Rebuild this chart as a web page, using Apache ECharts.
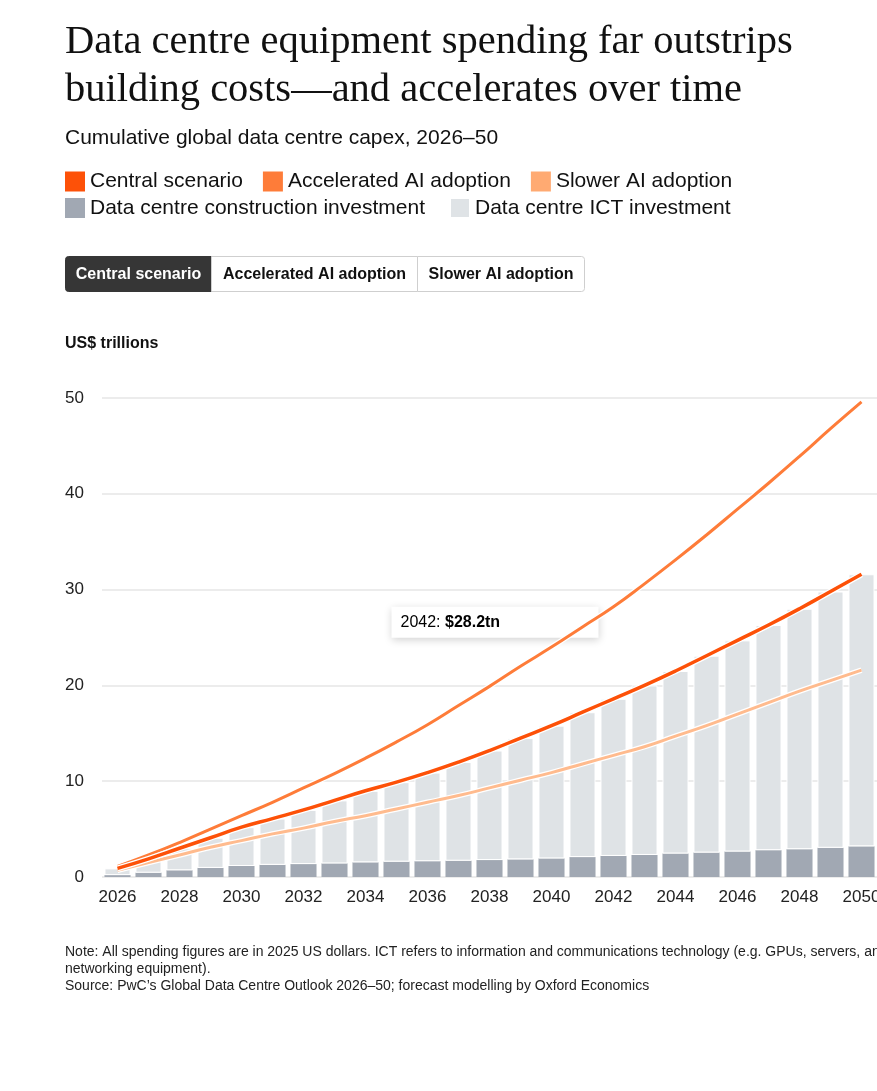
<!DOCTYPE html>
<html lang="en">
  <head>
    <meta charset="UTF-8" />
    <title>Data centre capex</title>
    <script src="https://cdn.jsdelivr.net/npm/echarts@6.0.0/dist/echarts.min.js"></script>
    <style>
      html, body { margin: 0; padding: 0; background: #fff; overflow: hidden; }
    </style>
  </head>
  <body>
    <div id="main" style="width: 877px; height: 1091px"></div>
    <script type="text/javascript">
      // values (US$ trillions, cumulative)
      const years = ["2026", "2027", "2028", "2029", "2030", "2031", "2032", "2033", "2034",
        "2035", "2036", "2037", "2038", "2039", "2040", "2041", "2042", "2043", "2044",
        "2045", "2046", "2047", "2048", "2049", "2050"];
      const construction = [0.2, 0.45, 0.7, 0.95, 1.15, 1.27, 1.35, 1.42, 1.53, 1.6, 1.65, 1.7,
        1.77, 1.84, 1.94, 2.08, 2.2, 2.3, 2.45, 2.55, 2.66, 2.8, 2.9, 3.05, 3.2];
      const ict = [0.7, 1.45, 2.3, 3.15, 4.05, 4.83, 5.65, 6.58, 7.47, 8.3, 9.25, 10.3, 11.43,
        12.66, 13.86, 15.12, 16.4, 17.7, 19.05, 20.55, 22.04, 23.5, 25.1, 26.75, 28.4];
      const central = [0.9, 1.9, 3.0, 4.1, 5.2, 6.1, 7.0, 8.0, 9.0, 9.9, 10.9, 12.0, 13.2, 14.5,
        15.8, 17.2, 18.6, 20.0, 21.5, 23.1, 24.7, 26.3, 28.0, 29.8, 31.6];
      const accelerated = [1.1, 2.3, 3.6, 5.0, 6.4, 7.8, 9.3, 10.8, 12.4, 14.1, 15.9, 17.9, 19.9,
        22.0, 24.0, 26.1, 28.2, 30.6, 33.1, 35.7, 38.4, 41.1, 43.9, 46.8, 49.6];
      const slower = [0.7, 1.5, 2.3, 3.1, 3.8, 4.5, 5.1, 5.8, 6.4, 7.1, 7.8, 8.5, 9.3, 10.1, 10.9,
        11.8, 12.7, 13.6, 14.7, 15.8, 17.0, 18.2, 19.4, 20.5, 21.6];
      const tipYear = "2042";
      const buttons = ["Central scenario", "Accelerated AI adoption", "Slower AI adoption"];

      const SANS = "Liberation Sans";
      const colors = {
        central: "#fd5108",
        accelerated: "#fe7c39",
        slower: "#ffaa72",
        slowerLine: "#ffbb8e",
        construction: "#a1a8b3",
        ict: "#dfe3e6",
      };

      let myChart = echarts.init(document.getElementById("main"));

      function lineSeries(name, data, color, lineColor, width, z) {
        return [
          {
            // white halo under the line
            name: name + " halo",
            type: "line",
            data: data,
            smooth: true,
            showSymbol: false,
            silent: true,
            z: z,
            lineStyle: { color: "#fff", width: width + 2.5 },
          },
          {
            name: name,
            type: "line",
            data: data,
            smooth: true,
            showSymbol: false,
            z: z + 1,
            itemStyle: { color: color },
            lineStyle: { color: lineColor, width: width },
          },
        ];
      }

      // segmented control above the chart
      const btnWidths = [146, 206, 167];
      let btnX = 0;
      const btnChildren = [];
      buttons.forEach((label, i) => {
        const active = i === 0;
        btnChildren.push({
          type: "rect",
          shape: { x: btnX, y: 0, width: btnWidths[i], height: 35, r: i === 0 ? [3, 0, 0, 3] : i === 2 ? [0, 3, 3, 0] : 0 },
          style: { fill: active ? "#363636" : "#fff", stroke: active ? "#363636" : "#cfcfcf", lineWidth: 1 },
        });
        btnChildren.push({
          type: "text",
          x: btnX + btnWidths[i] / 2,
          y: 18,
          style: {
            text: label,
            fill: active ? "#fff" : "#111",
            font: "bold 16px " + SANS,
            align: "center",
            verticalAlign: "middle",
          },
        });
        btnX += btnWidths[i];
      });

      let options = {
        animation: false,
        textStyle: { fontFamily: SANS },
        title: [
          {
            text: "Data centre equipment spending far outstrips\nbuilding costs\u2014and accelerates over time",
            left: 65,
            top: 18,
            padding: 0,
            textStyle: { fontFamily: "Liberation Serif", fontSize: 40.5, lineHeight: 48, fontWeight: "normal", color: "#111" },
          },
          {
            text: "Cumulative global data centre capex, 2026\u201350",
            left: 65,
            top: 126,
            padding: 0,
            textStyle: { fontFamily: SANS, fontSize: 21, lineHeight: 24, fontWeight: "normal", color: "#111" },
          },
          {
            text: "US$ trillions",
            left: 65,
            top: 335,
            padding: 0,
            textStyle: { fontFamily: SANS, fontSize: 16, lineHeight: 18, fontWeight: "bold", color: "#111" },
          },
          {
            text:
              "Note: All spending figures are in 2025 US dollars. ICT refers to information and communications technology (e.g. GPUs, servers, and\n" +
              "networking equipment).\n" +
              "Source: PwC\u2019s Global Data Centre Outlook 2026\u201350; forecast modelling by Oxford Economics",
            left: 65,
            top: 944,
            padding: 0,
            textStyle: { fontFamily: SANS, fontSize: 14, lineHeight: 17, fontWeight: "normal", color: "#222" },
          },
        ],
        legend: [
          {
            data: [
              { name: "Central scenario", icon: "rect" },
              { name: "Accelerated AI adoption", icon: "rect" },
              { name: "Slower AI adoption", icon: "rect" },
            ],
            left: 65,
            top: 171,
            padding: 0,
            itemWidth: 20,
            itemHeight: 20,
            itemGap: 20,
            selectedMode: false,
            textStyle: { fontSize: 21, color: "#111", fontFamily: SANS },
          },
          {
            data: [
              { name: "Data centre construction investment", icon: "rect" },
              { name: "Data centre ICT investment", icon: "rect" },
            ],
            left: 65,
            top: 197,
            padding: 0,
            itemWidth: 20,
            itemHeight: 20,
            itemGap: 24,
            selectedMode: false,
            textStyle: { fontSize: 21, color: "#111", fontFamily: SANS },
          },
        ],
        // let the last year label run off the edge like the original
        grid: { left: 102, right: 0, top: 398, bottom: 214, containLabel: false, outerBoundsMode: "none" },
        xAxis: {
          type: "category",
          data: years,
          axisTick: { show: false },
          axisLine: { show: false },
          axisLabel: { interval: 1, fontSize: 17, color: "#222", margin: 12, fontFamily: SANS, hideOverlap: false },
        },
        yAxis: {
          type: "value",
          min: 0,
          max: 50,
          interval: 10,
          axisLabel: { fontSize: 17, color: "#222", margin: 18, fontFamily: SANS },
          splitLine: { lineStyle: { color: "#e6e6e6", width: 1.5 } },
        },
        graphic: [{ type: "group", left: 65, top: 256, children: btnChildren }],
        series: [
          {
            name: "Data centre construction investment",
            type: "bar",
            stack: "capex",
            data: construction,
            barCategoryGap: "16%",
            itemStyle: { color: colors.construction },
          },
          {
            name: "Data centre ICT investment",
            type: "bar",
            stack: "capex",
            data: ict,
            itemStyle: { color: colors.ict, borderColor: "#fff", borderWidth: 1 },
          },
          ...lineSeries("Slower AI adoption", slower, colors.slower, colors.slowerLine, 3, 3),
          ...lineSeries("Accelerated AI adoption", accelerated, colors.accelerated, colors.accelerated, 3, 5),
          ...lineSeries("Central scenario", central, colors.central, colors.central, 3.5, 7),
        ],
      };

      myChart.setOption(options);

      // hover label pinned at the 2042 accelerated point
      const tipIndex = years.indexOf(tipYear);
      const tipValue = accelerated[tipIndex];
      const pt = myChart.convertToPixel({ xAxisIndex: 0, yAxisIndex: 0 }, [tipYear, tipValue]);
      myChart.setOption({
        graphic: [
          { type: "group", left: 65, top: 256, children: btnChildren },
          {
            type: "group",
            x: pt[0] - 222,
            y: pt[1],
            z: 100,
            children: [
              {
                type: "rect",
                shape: { x: 0, y: 0, width: 207, height: 31 },
                style: { fill: "#fff", shadowBlur: 8, shadowColor: "rgba(0,0,0,0.18)", shadowOffsetY: 2 },
              },
              {
                type: "text",
                x: 9,
                y: 16,
                style: {
                  text: "{a|" + tipYear + ": }{b|$" + tipValue.toFixed(1) + "tn}",
                  verticalAlign: "middle",
                  rich: {
                    a: { fontSize: 16, fontFamily: SANS, color: "#111" },
                    b: { fontSize: 16, fontFamily: SANS, fontWeight: "bold", color: "#111" },
                  },
                },
              },
            ],
          },
        ],
      });
    </script>
  </body>
</html>
